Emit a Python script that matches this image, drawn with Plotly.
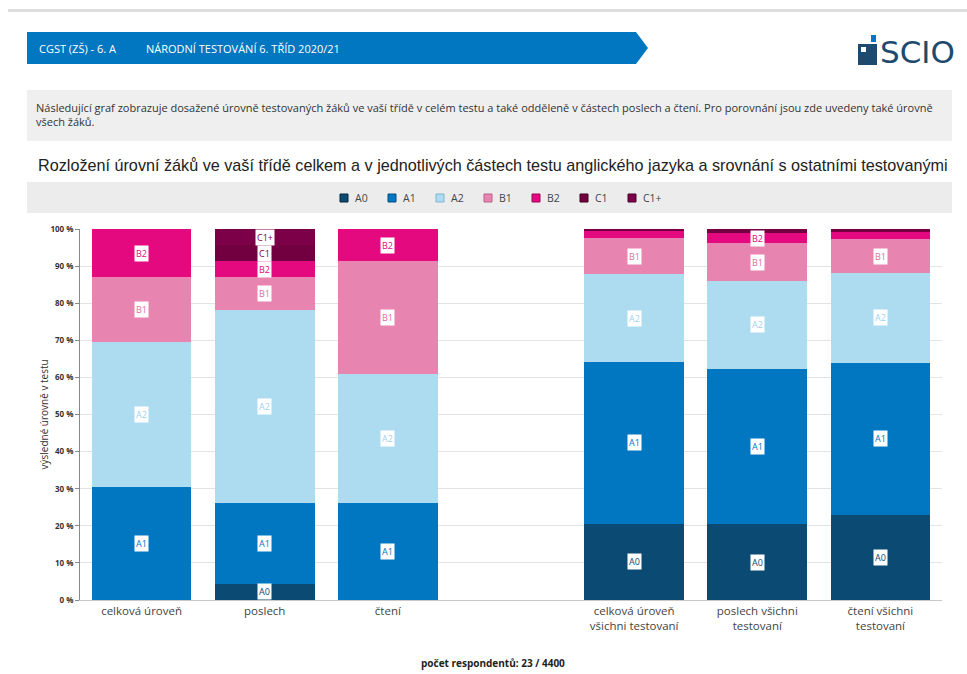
import plotly.graph_objects as go

# ---- data ----
levels = ["A0", "A1", "A2", "B1", "B2", "C1", "C1+"]
colors = ["#0b4a72", "#0077c0", "#addcf1", "#e884b0", "#e4097e", "#720040", "#7c0047"]
label_colors = ["#0b4a72", "#0077c0", "#9fd3ee", "#e06ea2", "#e4097e", "#720040", "#7c0047"]
legend_border = ["#06263d", "#004f80", "#7fb6d0", "#b8618a", "#9c0557", "#40001f", "#4a002a"]

class_cats = ["celková úroveň", "poslech", "čtení"]
all_cats = ["celková úroveň<br>všichni testovaní", "poslech všichni<br>testovaní", "čtení všichni<br>testovaní"]

# percentages per level (A0..C1+) for each category
class_vals = {
    "A0": [0.0, 4.35, 0.0],
    "A1": [30.43, 21.74, 26.09],
    "A2": [39.13, 52.17, 34.78],
    "B1": [17.39, 8.70, 30.43],
    "B2": [13.04, 4.35, 8.70],
    "C1": [0.0, 4.35, 0.0],
    "C1+": [0.0, 4.35, 0.0],
}
all_vals = {
    "A0": [20.6, 20.4, 23.0],
    "A1": [43.5, 42.0, 40.9],
    "A2": [23.8, 23.7, 24.3],
    "B1": [9.6, 10.0, 9.0],
    "B2": [2.0, 2.9, 2.2],
    "C1": [0.4, 0.8, 0.5],
    "C1+": [0.1, 0.2, 0.1],
}
y_ticks = [0, 10, 20, 30, 40, 50, 60, 70, 80, 90, 100]
y_ticktext = [f"{v} %" for v in y_ticks]

header_left = "CGST (ZŠ) - 6. A"
header_right = "NÁRODNÍ TESTOVÁNÍ 6. TŘÍD 2020/21"
intro = ("Následující graf zobrazuje dosažené úrovně testovaných žáků ve vaší třídě v celém testu a také odděleně v částech poslech a čtení. "
         "Pro porovnání jsou zde uvedeny také úrovně<br>všech žáků.")
title = "Rozložení úrovní žáků ve vaší třídě celkem a v jednotlivých částech testu anglického jazyka a srovnání s ostatními testovanými"
footer = "<b>počet respondentů: 23 / 4400</b>"
y_title = "výsledné úrovně v testu"

LABEL_MIN = 2.5

# ---- layout geometry ----
W, H = 967, 674
L, R, T, B = 80, 25, 229, 74
pw, ph = W - L - R, H - T - B


def px(x):
    return (x - L) / pw


def py(y):
    return (H - B - y) / ph


gap = " "
cats = class_cats + [gap] + all_cats

fig = go.Figure()
bases = [0.0] * len(cats)
annotations = []
for lv, col, lcol in zip(levels, colors, label_colors):
    vals = class_vals[lv] + [None] + all_vals[lv]
    fig.add_trace(go.Bar(
        name=lv, x=cats, y=vals, marker=dict(color=col, line=dict(width=0)),
        hoverinfo="x+y+name", showlegend=False,
    ))
    for i, v in enumerate(vals):
        if v is None:
            continue
        if v >= LABEL_MIN:
            annotations.append(dict(
                x=cats[i], y=bases[i] + v / 2, xref="x", yref="y", text=lv,
                showarrow=False, bgcolor="white", borderpad=1,
                font=dict(family="Open Sans", size=9, color=lcol),
            ))
        bases[i] += v

# header / page decorations
shapes = [
    dict(type="rect", xref="paper", yref="paper", x0=px(8), x1=px(967), y0=py(12), y1=py(9),
         fillcolor="#dedede", line=dict(width=0), layer="below"),
    dict(type="path", xref="paper", yref="paper",
         path=f"M {px(27)} {py(32)} L {px(636)} {py(32)} L {px(648)} {py(48)} L {px(636)} {py(64)} L {px(27)} {py(64)} Z",
         fillcolor="#0077c0", line=dict(width=0)),
    # logo icon
    dict(type="rect", xref="paper", yref="paper", x0=px(858), x1=px(877), y0=py(65), y1=py(44),
         fillcolor="#1d4a6e", line=dict(width=0)),
    dict(type="rect", xref="paper", yref="paper", x0=px(861), x1=px(866), y0=py(52), y1=py(47),
         fillcolor="white", line=dict(width=0)),
    dict(type="rect", xref="paper", yref="paper", x0=px(871), x1=px(876), y0=py(42), y1=py(35),
         fillcolor="#0077c0", line=dict(width=0)),
    # intro box
    dict(type="rect", xref="paper", yref="paper", x0=px(27), x1=px(952), y0=py(141), y1=py(90),
         fillcolor="#efefef", line=dict(width=0), layer="below"),
    # legend box
    dict(type="rect", xref="paper", yref="paper", x0=px(27), x1=px(952), y0=py(213), y1=py(182),
         fillcolor="#ececec", line=dict(width=0), layer="below"),
]

# legend (drawn inside the grey legend band)
leg_x = 340
leg_y = 198
leg_step = 48
for lv, col, bcol in zip(levels, colors, legend_border):
    shapes.append(dict(type="rect", xref="paper", yref="paper",
                       x0=px(leg_x), x1=px(leg_x + 8), y0=py(leg_y + 4), y1=py(leg_y - 4),
                       fillcolor=col, line=dict(width=1, color=bcol)))
    annotations.append(dict(xref="paper", yref="paper", x=px(leg_x + 13), y=py(leg_y),
                            xanchor="left", yanchor="middle", text=lv, showarrow=False,
                            font=dict(family="Open Sans", size=10.5, color="#444444")))
    leg_x += leg_step

annotations += [
    dict(xref="paper", yref="paper", x=px(37), y=py(48), xanchor="left", yanchor="middle",
         text=header_left, showarrow=False, font=dict(family="Open Sans", size=11, color="white")),
    dict(xref="paper", yref="paper", x=px(144), y=py(48), xanchor="left", yanchor="middle",
         text=header_right, showarrow=False, font=dict(family="Open Sans", size=11, color="white")),
    dict(xref="paper", yref="paper", x=px(878), y=py(52), xanchor="left", yanchor="middle",
         text="SCIO", showarrow=False, font=dict(family="DejaVu Sans", size=31, color="#1d4a6e")),
    dict(xref="paper", yref="paper", x=px(34), y=py(115), xanchor="left", yanchor="middle", align="left",
         text=intro, showarrow=False, font=dict(family="Open Sans", size=11, color="#333333")),
    dict(xref="paper", yref="paper", x=px(36), y=py(165), xanchor="left", yanchor="middle",
         text=title, showarrow=False, font=dict(family="Liberation Sans", size=16.2, color="#222222")),
    dict(xref="paper", yref="paper", x=px(493), y=py(663), xanchor="center", yanchor="middle",
         text=footer, showarrow=False, font=dict(family="Open Sans", size=10, color="#222222")),
    dict(xref="paper", yref="paper", x=px(43), y=0.5, xanchor="center", yanchor="middle", textangle=-90,
         text=y_title, showarrow=False, font=dict(family="Open Sans", size=10, color="#333333")),
]

fig.update_layout(
    width=W, height=H, barmode="stack", bargap=0.19,
    margin=dict(l=L, r=R, t=T, b=B, autoexpand=False),
    paper_bgcolor="white", plot_bgcolor="white",
    font=dict(family="Open Sans", color="#333333"),
    showlegend=False,
    shapes=shapes, annotations=annotations,
    xaxis=dict(type="category", categoryorder="array", categoryarray=cats, showgrid=False,
               showline=True, linecolor="#c8c8c8", ticks="", tickfont=dict(family="Open Sans", size=11.5, color="#444444"),
               range=[-0.5, len(cats) - 0.5]),
    yaxis=dict(range=[0, 100], tickvals=y_ticks, ticktext=y_ticktext, showgrid=True, gridcolor="#e3e3e3",
               showline=True, linecolor="#888888", ticks="outside", ticklen=4, tickcolor="#888888",
               tickfont=dict(family="Open Sans", size=8, color="#333333", weight="bold"), zeroline=False),
)

fig.write_html("out.html", config={"displayModeBar": False},
               post_script="document.body.style.margin='0';document.body.style.overflow='hidden';")
